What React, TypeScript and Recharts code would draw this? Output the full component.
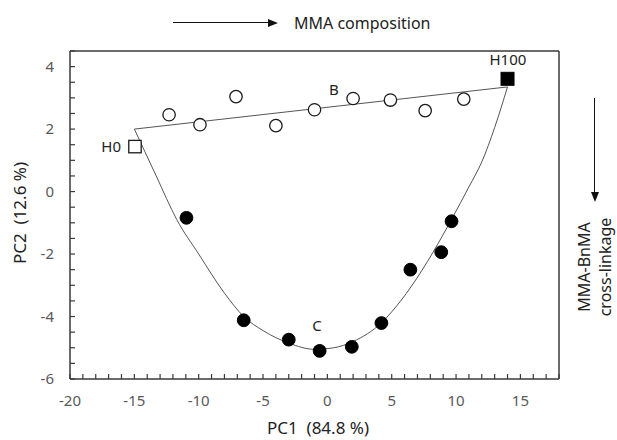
import React from 'react';
import {
  ComposedChart,
  XAxis,
  YAxis,
  Line,
  Scatter,
  ReferenceDot,
  ReferenceLine,
  CartesianGrid,
} from 'recharts';

// ---- data ----
const seriesB_x = [-12.3, -9.9, -7.1, -4.0, -1.0, 2.0, 4.9, 7.6, 10.6];
const seriesB_y = [2.46, 2.14, 3.04, 2.11, 2.62, 2.98, 2.93, 2.59, 2.96];

const seriesC_x = [-10.95, -6.5, -3.0, -0.6, 1.9, 4.2, 6.45, 8.85, 9.65];
const seriesC_y = [-0.84, -4.12, -4.74, -5.1, -4.97, -4.21, -2.5, -1.94, -0.95];

const h0 = [{ x: -14.95, y: 1.44 }];
const h100 = [{ x: 14.0, y: 3.61 }];

const lineB_x = [-15, 14];
const lineB_y = [2.0, 3.35];

const curveC_x = [-15, -13.3, -11.7, -10, -8, -6.5, -5, -3, -1, 0.5, 2, 4.2, 5, 6.5, 8.2, 9.7, 11, 12, 13, 14];
const curveC_y = [2.0, 0.5, -0.9, -2.0, -3.25, -4.0, -4.45, -4.85, -5.05, -5.0, -4.8, -4.2, -3.85, -3.05, -1.95, -0.85, 0.15, 0.95, 2.05, 3.35];

const xMin = -20;
const xMax = 18;
const yMin = -6;
const yMax = 4.5;

const xMajorTicks = [-20, -15, -10, -5, 0, 5, 10, 15];
const xMinorTicks = [-20, -19, -18, -17, -16, -15, -14, -13, -12, -11, -10, -9, -8, -7, -6, -5, -4, -3, -2, -1, 0, 1, 2, 3, 4, 5, 6, 7, 8, 9, 10, 11, 12, 13, 14, 15, 16, 17, 18];
const yMajorTicks = [-6, -4, -2, 0, 2, 4];
const yMinorTicks = [-6, -5.5, -5, -4.5, -4, -3.5, -3, -2.5, -2, -1.5, -1, -0.5, 0, 0.5, 1, 1.5, 2, 2.5, 3, 3.5, 4, 4.5];
const xGrid = [-15, -10, -5, 0, 5, 10, 15];
const yGrid = [-4, -2, 0, 2, 4];

const pointLabels = [
  { x: 0.5, y: 3.26, text: 'B' },
  { x: -0.8, y: -4.3, text: 'C' },
  { x: -16.8, y: 1.44, text: 'H0' },
  { x: 14.03, y: 4.23, text: 'H100' },
];

const xTitle = 'PC1  (84.8 %)';
const yTitle = 'PC2  (12.6 %)';
const topNote = 'MMA composition';
const sideNote1 = 'MMA-BnMA';
const sideNote2 = 'cross-linkage';

const zip = (xs: number[], ys: number[]) => xs.map((x, i) => ({ x, y: ys[i] }));

const FONT = "'Noto Sans', 'Open Sans', sans-serif";
const TICK_COLOR = '#595959';
const FRAME = '#3a3a3a';
const GRID = '#d9d9d9';
const INK = '#222';

const W = 617;
const H = 440;
const MARGIN = { top: 51, right: 58, bottom: 31, left: 30 };

const XTick = (props: any) => {
  const { x, y, payload } = props;
  const v = payload.value;
  const major = xMajorTicks.includes(v);
  return (
    <g>
      <line x1={x} x2={x} y1={y} y2={y - 5} stroke={FRAME} strokeWidth={1.2} />
      {major && (
        <text x={x} y={y + 27} textAnchor="middle" fontFamily={FONT} fontSize={15} fill={TICK_COLOR}>
          {v}
        </text>
      )}
    </g>
  );
};

const YTick = (props: any) => {
  const { x, y, payload } = props;
  const v = payload.value;
  const major = yMajorTicks.includes(v);
  return (
    <g>
      <line x1={x} x2={x + 5} y1={y} y2={y} stroke={FRAME} strokeWidth={1.2} />
      {major && (
        <text x={x - 16} y={y + 5} textAnchor="end" fontFamily={FONT} fontSize={15} fill={TICK_COLOR}>
          {v}
        </text>
      )}
    </g>
  );
};

const OpenCircle = (p: any) => (
  <circle cx={p.cx} cy={p.cy} r={6.2} fill="#fff" stroke="#1a1a1a" strokeWidth={1.3} />
);
const FilledCircle = (p: any) => (
  <circle cx={p.cx} cy={p.cy} r={6.4} fill="#000" stroke="#000" strokeWidth={1} />
);
const OpenSquare = (p: any) => (
  <rect x={p.cx - 6.2} y={p.cy - 6.2} width={12.4} height={12.4} fill="#fff" stroke="#1a1a1a" strokeWidth={1.3} />
);
const FilledSquare = (p: any) => (
  <rect x={p.cx - 6.5} y={p.cy - 6.5} width={13} height={13} fill="#000" stroke="#000" strokeWidth={1} />
);

const textBase: React.CSSProperties = {
  position: 'absolute',
  fontFamily: FONT,
  color: INK,
  whiteSpace: 'pre',
  height: 20,
  lineHeight: '20px',
  pointerEvents: 'none',
};

const Rotated = ({ cx, cy, size, text }: { cx: number; cy: number; size: number; text: string }) => (
  <div
    style={{
      ...textBase,
      fontSize: size,
      width: 160,
      left: cx - 80,
      top: cy - 10,
      textAlign: 'center',
      transform: 'rotate(-90deg)',
    }}
  >
    {text}
  </div>
);

// Background chart: grid and frame only, same layout and scales as the main chart
const BackgroundGrid = () => (
  <ComposedChart width={W} height={H} margin={MARGIN}>
    <CartesianGrid stroke={GRID} strokeWidth={1.3} verticalValues={xGrid} horizontalValues={yGrid} />
    <XAxis type="number" dataKey="x" domain={[xMin, xMax]} height={30} tick={false} tickLine={false} axisLine={false} />
    <YAxis type="number" dataKey="y" domain={[yMin, yMax]} width={40} tick={false} tickLine={false} axisLine={false} />
    <ReferenceLine y={yMax} stroke={FRAME} strokeWidth={1.5} />
    <ReferenceLine x={xMax} stroke={FRAME} strokeWidth={1.5} />
    <Line
      data={zip(lineB_x, lineB_y)}
      dataKey="y"
      type="linear"
      stroke="none"
      dot={false}
      activeDot={false}
      isAnimationActive={false}
    />
  </ComposedChart>
);

export default function App() {
  return (
    <div style={{ position: 'absolute', left: 0, top: 0, width: W, height: H, background: '#fff' }}>
      <div style={{ position: 'absolute', left: 0, top: 0 }}>
        <BackgroundGrid />
      </div>
      <div style={{ position: 'absolute', left: 0, top: 0 }}>
        <ComposedChart width={W} height={H} margin={MARGIN}>
          <XAxis
            type="number"
            dataKey="x"
            domain={[xMin, xMax]}
            ticks={xMinorTicks}
            interval={0}
            height={30}
            tickLine={false}
            tickSize={0}
            tickMargin={0}
            axisLine={{ stroke: FRAME, strokeWidth: 1.5 }}
            tick={<XTick />}
          />
          <YAxis
            type="number"
            dataKey="y"
            domain={[yMin, yMax]}
            ticks={yMinorTicks}
            interval={0}
            width={40}
            tickLine={false}
            tickSize={0}
            tickMargin={0}
            axisLine={{ stroke: FRAME, strokeWidth: 1.5 }}
            tick={<YTick />}
          />
          <Line
            data={zip(lineB_x, lineB_y)}
            dataKey="y"
            type="linear"
            stroke="#555"
            strokeWidth={1}
            dot={false}
            activeDot={false}
            isAnimationActive={false}
          />
          <Line
            data={zip(curveC_x, curveC_y)}
            dataKey="y"
            type="monotone"
            stroke="#555"
            strokeWidth={1}
            dot={false}
            activeDot={false}
            isAnimationActive={false}
          />
          <Scatter data={zip(seriesB_x, seriesB_y)} dataKey="y" shape={<OpenCircle />} isAnimationActive={false} />
          <Scatter data={zip(seriesC_x, seriesC_y)} dataKey="y" shape={<FilledCircle />} isAnimationActive={false} />
          <Scatter data={h0} dataKey="y" shape={<OpenSquare />} isAnimationActive={false} />
          <Scatter data={h100} dataKey="y" shape={<FilledSquare />} isAnimationActive={false} />
          {pointLabels.map((l) => (
            <ReferenceDot
              key={l.text}
              x={l.x}
              y={l.y}
              r={0}
              fill="none"
              stroke="none"
              ifOverflow="visible"
              label={{ value: l.text, position: 'center', fontFamily: FONT, fontSize: 15, fill: INK }}
            />
          ))}
        </ComposedChart>
      </div>

      {/* top annotation arrow */}
      <div style={{ position: 'absolute', left: 173, top: 22, width: 96, height: 0, borderTop: '1.2px solid #111' }} />
      <div
        style={{
          position: 'absolute',
          left: 268,
          top: 18.6,
          width: 0,
          height: 0,
          borderTop: '4px solid transparent',
          borderBottom: '4px solid transparent',
          borderLeft: '10px solid #111',
        }}
      />
      <div style={{ ...textBase, fontSize: 16, left: 294, top: 12.8 }}>{topNote}</div>

      {/* right annotation arrow */}
      <div style={{ position: 'absolute', left: 594.4, top: 98, width: 0, height: 95, borderLeft: '1.2px solid #111' }} />
      <div
        style={{
          position: 'absolute',
          left: 591,
          top: 192,
          width: 0,
          height: 0,
          borderLeft: '4px solid transparent',
          borderRight: '4px solid transparent',
          borderTop: '10px solid #111',
        }}
      />
      <Rotated cx={583.5} cy={267} size={16} text={sideNote1} />
      <Rotated cx={604.5} cy={267} size={16} text={sideNote2} />

      {/* axis titles */}
      <div style={{ ...textBase, fontSize: 17, left: 218, width: 200, top: 418, textAlign: 'center' }}>{xTitle}</div>
      <Rotated cx={19.5} cy={213} size={17} text={yTitle} />
    </div>
  );
}
